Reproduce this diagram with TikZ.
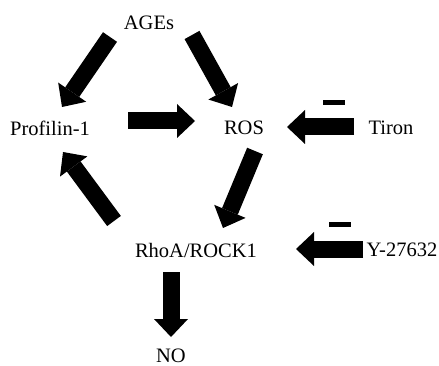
\documentclass[tikz,border=0pt]{standalone}
\usepackage{fontspec}
\setmainfont{Liberation Serif}
\usetikzlibrary{arrows.meta}
\tikzset{
  lbl/.style={font=\fontsize{20.5}{24}\selectfont, inner sep=0pt},
  fat/.style={line width=17pt, -{Triangle[length=18pt,width=34pt,line width=0pt]}},
  minus/.style={line width=5pt}
}
\begin{document}
\begin{tikzpicture}[x=1pt,y=-1pt]
\useasboundingbox (0,0) rectangle (439,366);
\node[lbl] (ages) at (149,23) {AGEs};
\node[lbl] (prof) at (50,128) {Profilin-1};
\node[lbl] (ros) at (244,128) {ROS};
\node[lbl] (tiron) at (391,128) {Tiron};
\node[lbl] (rhoa) at (196,250) {RhoA/ROCK1};
\node[lbl] (y27) at (402,250) {Y-27632};
\node[lbl] (no) at (171,356) {NO};
\draw[fat] ([shift={(-39,14)}]ages.center) -- ([shift={(12,-21)}]prof.center);
\draw[fat] ([shift={(43,12)}]ages.center) -- ([shift={(-12,-21)}]ros.center);
\draw[fat] ([shift={(78,-7)}]prof.center) -- ([shift={(-49,-7)}]ros.center);
\draw[fat] ([shift={(-37,-1)}]tiron.center) -- ([shift={(43,-1)}]ros.center);
\draw[fat] ([shift={(11,23)}]ros.center) -- ([shift={(27,-22)}]rhoa.center);
\draw[fat] ([shift={(-82,-29)}]rhoa.center) -- ([shift={(13,24)}]prof.center);
\draw[fat] ([shift={(-39,-1)}]y27.center) -- ([shift={(100,-1)}]rhoa.center);
\draw[fat] ([shift={(-25,22)}]rhoa.center) -- ([shift={(0,-19)}]no.center);
% inhibitor bars
\draw[minus] (323,103) -- (345,103);
\draw[minus] (329,225) -- (351,225);
\end{tikzpicture}
\end{document}
